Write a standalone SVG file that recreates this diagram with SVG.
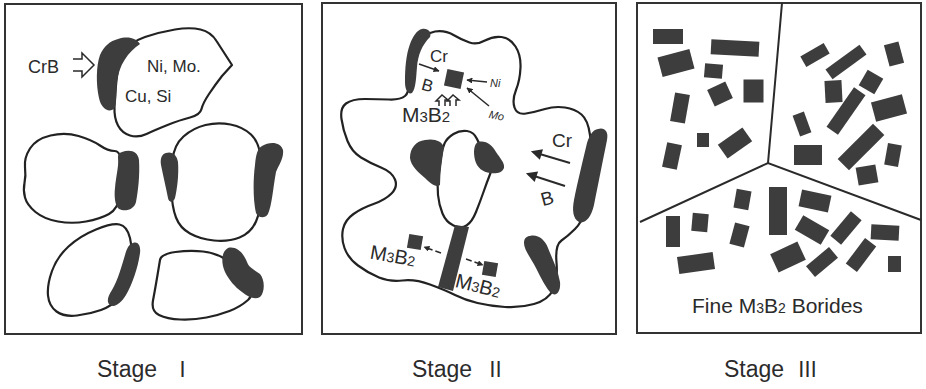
<svg xmlns="http://www.w3.org/2000/svg" width="926" height="389" viewBox="0 0 926 389">
  <defs>
    <style>
      .frame { fill: #ffffff; stroke: #333333; stroke-width: 2; }
      .grain { fill: #ffffff; stroke: #222222; stroke-width: 2.2; stroke-linejoin: round; }
      .patch { fill: #3d3d3d; }
      .blk { fill: #3d3d3d; }
      .gb { fill: none; stroke: #2a2a2a; stroke-width: 2; }
      .thin { fill: none; stroke: #2a2a2a; stroke-width: 1.5; }
      .lbl { font-family: "Liberation Sans", Arial, sans-serif; fill: #2b2b2b; }
      .it { font-style: italic; }
      .num { font-family: "Noto Sans CJK JP", "DejaVu Sans", sans-serif; fill: #2b2b2b; }
    </style>
    <marker id="ah" viewBox="0 0 10 10" refX="9" refY="5" markerWidth="6" markerHeight="6" markerUnits="userSpaceOnUse" orient="auto">
      <path d="M0,0 L10,5 L0,10 Z" fill="#2a2a2a"/>
    </marker>
    <marker id="ahb" viewBox="0 0 10 10" refX="8" refY="5" markerWidth="12" markerHeight="11" markerUnits="userSpaceOnUse" orient="auto">
      <path d="M0,0 L10,5 L0,10 Z" fill="#2a2a2a"/>
    </marker>
  </defs>

  <rect x="0" y="0" width="926" height="389" fill="#ffffff"/>

  <!-- Stage I : CrB particles wetting the matrix grains -->
  <g id="stage1">
    <rect class="frame" x="5" y="4" width="297" height="330"/>

    <g id="s1-grain-top">
      <path class="grain" d="M124,53.5 Q130,42 145,37 Q160,32 175,29.5 Q190,27 200.5,29.5 Q211,32 216.5,41 L232,65 L222,76 Q215,85 209,94 Q203,103 201.5,109 Q200,115 190,117.5 Q180,120 167.5,125 Q155,130 146.5,134 Q138,138 130,135.5 Q122,133 118,125.5 Q114,118 114.5,106.5 Q115,95 116.5,80 Q118,65 124,53.5 Z"/>
      <path class="patch" d="M118,39 C128,36 136,38 140,44 C128,52 119,65 117,82 C116,95 117,104 114,109 C108,113 101,108 99,98 C96,85 96,66 100,55 C104,46 110,41 118,39 Z"/>
      <text class="lbl" x="147" y="72" font-size="17">Ni, Mo.</text>
      <text class="lbl" x="125" y="102" font-size="17">Cu, Si</text>
    </g>

    <g id="s1-crb">
      <text class="lbl" x="28" y="73" font-size="18">CrB</text>
      <path class="thin" d="M73,59 H82 V53 L94,65 L82,77 V71 H73"/>
    </g>

    <g id="s1-grain-midleft">
      <path class="grain" d="M25,167 Q24,158 30,148.5 Q36,139 50.5,135.5 Q65,132 78.5,136 Q92,140 100,145.5 Q108,151 114.5,151 Q121,151 122,165.5 Q123,180 120.5,194.5 Q118,209 109,214 Q100,219 86,221.5 Q72,224 58,221.5 Q44,219 35.5,212 Q27,205 25,197.5 Q23,190 24.5,183 Q26,176 25,167 Z"/>
      <path class="patch" d="M122,152 C130,149 138,151 139,160 C140,175 138,192 136,202 C134,210 125,212 119,209 C115,206 114,196 115,188 C116,176 119,166 118,158 C118,154 119,153 122,152 Z"/>
    </g>

    <g id="s1-grain-midright">
      <path class="grain" d="M172.5,160 Q174,145 183.5,136.5 Q193,128 205.5,125 Q218,122 230.5,124.5 Q243,127 251,134.5 Q259,142 261,158.5 Q263,175 262,192.5 Q261,210 256,221.5 Q251,233 239.5,237.5 Q228,242 214,240.5 Q200,239 190,233.5 Q180,228 176,217.5 Q172,207 171.5,191 Q171,175 172.5,160 Z"/>
      <path class="patch" d="M166,153 C172,151 177,155 178,162 C179,175 177,190 175,198 C173,203 169,203 168,198 C166,188 163,175 161,165 C160,158 162,154 166,153 Z"/>
      <path class="patch" d="M262,146 C270,141 281,142 283,150 C284,158 279,165 276,172 C273,188 272,205 268,214 C265,219 258,218 256,213 C253,200 253,180 255,165 C256,155 257,149 262,146 Z"/>
    </g>

    <g id="s1-grain-botleft">
      <path class="grain" d="M68.5,246.5 Q80,236 96,229.5 Q112,223 119.5,224.5 Q127,226 130,238 Q133,250 129.5,270 Q126,290 119,298 Q112,306 101,310 Q90,314 77,315.5 Q64,317 56.5,311.5 Q49,306 48,295.5 Q47,285 52,271 Q57,257 68.5,246.5 Z"/>
      <path class="patch" d="M133,243 C138,241 141,246 140,253 C138,268 132,285 126,295 C121,303 115,308 110,305 C106,302 108,296 112,290 C118,280 122,265 125,255 C127,248 129,244 133,243 Z"/>
    </g>

    <g id="s1-grain-botright">
      <path class="grain" d="M160,260 Q161,254 175.5,252 Q190,250 203,251.5 Q216,253 226,259.5 Q236,266 246,279.5 Q256,293 248,300 Q240,307 229.5,311 Q219,315 206.5,317.5 Q194,320 180.5,319.5 Q167,319 159,315 Q151,311 153,300.5 Q155,290 157,278 Q159,266 160,260 Z"/>
      <path class="patch" d="M228,248 C236,246 243,252 247,262 C249,268 255,270 260,274 C265,280 265,292 260,297 C255,300 248,297 242,292 C235,287 229,280 225,272 C221,263 221,252 228,248 Z"/>
    </g>
  </g>

  <!-- Stage II : diffusion of Cr and B, M3B2 formation -->
  <g id="stage2">
    <rect class="frame" x="322" y="3" width="294" height="331"/>

    <g id="s2-grain">
      <path class="grain" d="M416.5,46.5 Q425,33 435,31.5 Q445,30 453.5,35 Q462,40 469.5,42.5 Q477,45 485,40.5 Q493,36 501.5,37 Q510,38 515.5,46.5 Q521,55 520.5,67.5 Q520,80 516,90 Q512,100 514.5,107.5 Q517,115 526,113.5 Q535,112 545,109 Q555,106 565,107.5 Q575,109 581.5,114.5 Q588,120 590,135 Q592,150 590,175 Q588,200 585,211 Q582,222 575,229 Q568,236 561.5,240.5 Q555,245 556.5,262.5 Q558,280 553,290 Q548,300 534,304 Q520,308 505,307 Q490,306 477.5,303 Q465,300 455,295 Q445,290 430,284.5 Q415,279 402.5,280.5 Q390,282 379,277.5 Q368,273 358,265.5 Q348,258 344.5,248 Q341,238 343,229 Q345,220 353.5,214 Q362,208 373.5,204 Q385,200 391.5,193.5 Q398,187 395,179.5 Q392,172 381,167.5 Q370,163 361,157.5 Q352,152 347.5,141 Q343,130 341.5,119 Q340,108 346,103.5 Q352,99 365,99 Q378,99 389,99.5 Q400,100 405,96 Q410,92 409,76 Q408,60 416.5,46.5 Z"/>
      <path class="grain" d="M444.5,143.5 Q447,138 453.5,134 Q460,130 467,131 Q474,132 477,139 Q480,146 487,155 Q494,164 490.5,173 Q487,182 483.5,192 Q480,202 476,212 Q472,222 466.5,225.5 Q461,229 453.5,225.5 Q446,222 442.5,213.5 Q439,205 438,195 Q437,185 438.5,175 Q440,165 441,157 Q442,149 444.5,143.5 Z"/>
      <path class="patch" d="M422,29 C428,28 432,32 430,37 C422,45 418,55 417,67 C416,78 416,88 412,93 C408,95 405,90 405,82 C405,68 406,55 410,44 C413,36 417,30 422,29 Z"/>
      <path class="patch" d="M598,129 C604,127 609,131 607,140 C603,160 598,185 594,205 C591,218 585,224 579,222 C573,219 572,210 574,200 C578,180 583,160 587,143 C590,134 593,130 598,129 Z"/>
      <path class="patch" d="M530,236 C538,234 545,240 548,248 C552,258 558,270 560,282 C561,292 556,297 551,293 C546,288 541,278 536,268 C531,258 524,250 524,243 C524,238 527,236 530,236 Z"/>
      <path class="patch" d="M425,140 C434,138 442,141 444,147 C442,160 440,172 440,185 C436,188 430,183 425,178 C418,172 411,166 410,158 C410,148 416,141 425,140 Z"/>
      <path class="patch" d="M478,142 C486,140 492,145 496,152 C500,158 505,163 504,168 C502,173 496,174 490,173 C483,172 477,168 475,160 C473,152 474,144 478,142 Z"/>
      <path class="patch" d="M455,225 L469,227 L453,291 L438,287 Z"/>
    </g>

    <g id="s2-top-boride">
      <rect class="blk" x="445.5" y="70.5" width="17" height="17" transform="rotate(12 454 79)"/>
      <text class="lbl" x="430" y="62" font-size="17">Cr</text>
      <line class="thin" x1="419" y1="64" x2="439" y2="71" marker-end="url(#ah)"/>
      <text class="lbl" x="422" y="91" font-size="17" transform="rotate(15 427 85)">B</text>
      <text class="lbl it" x="490" y="87" font-size="11">Ni</text>
      <text class="lbl it" x="489" y="119" font-size="11" transform="rotate(12 495 115)">Mo</text>
      <path class="thin" d="M439,106 V101 H436 L442,95 L448,100 H445 V106"/>
      <path class="thin" d="M450,106 V101 H447 L453,95 L459,100 H456 V106"/>
      <text class="lbl" x="402" y="122" font-size="21">M<tspan font-size="15">3</tspan>B<tspan font-size="15">2</tspan></text>
    </g>

    <g id="s2-right-flux">
      <text class="lbl" x="552" y="147" font-size="19">Cr</text>
      <text class="lbl" x="541" y="205" font-size="19" transform="rotate(-15 547 199)">B</text>
    </g>

    <g id="s2-bottom-borides">
      <rect class="blk" x="408" y="235" width="14" height="14" transform="rotate(10 415 242)"/>
      <rect class="blk" x="483" y="262" width="14" height="14" transform="rotate(10 490 269)"/>
      <text class="lbl" x="370" y="263" font-size="20" transform="rotate(10 395 257)">M<tspan font-size="14">3</tspan>B<tspan font-size="14">2</tspan></text>
      <text class="lbl" x="455" y="293" font-size="20" transform="rotate(14 480 287)">M<tspan font-size="14">3</tspan>B<tspan font-size="14">2</tspan></text>
    </g>
  </g>

  <!-- connectors: diffusion arrows -->
  <g id="connectors">
    <line class="thin" x1="487" y1="82" x2="467" y2="80" marker-end="url(#ah)"/>
    <line class="thin" x1="489" y1="106" x2="467" y2="88" marker-end="url(#ah)"/>
    <line class="gb" x1="570" y1="163" x2="533" y2="152" stroke-width="4" marker-end="url(#ahb)"/>
    <line class="gb" x1="565" y1="186" x2="528" y2="174" stroke-width="4" marker-end="url(#ahb)"/>
    <line class="thin" x1="441" y1="253" x2="424" y2="247" stroke-dasharray="6 3" marker-end="url(#ah)"/>
    <line class="thin" x1="466" y1="259" x2="483" y2="265" stroke-dasharray="6 3" marker-end="url(#ah)"/>
  </g>

  <!-- Stage III : fine M3B2 borides in recrystallised grains -->
  <g id="stage3">
    <rect class="frame" x="637" y="3" width="284" height="330"/>
    <path class="gb" d="M782,3 L768,163 M640,222 L768,163 L921,220"/>

    <g id="s3-borides">
      <rect class="blk" x="653" y="29" width="30" height="15"/>
      <rect class="blk" x="659.5" y="53" width="33" height="20" transform="rotate(-15 676 63)"/>
      <rect class="blk" x="711" y="40.5" width="48" height="15" transform="rotate(3 735 48)"/>
      <rect class="blk" x="704.5" y="64" width="18" height="14" transform="rotate(5 713.5 71)"/>
      <rect class="blk" x="710" y="85" width="20" height="18" transform="rotate(-25 720 94)"/>
      <rect class="blk" x="743.5" y="79.5" width="20" height="23"/>
      <rect class="blk" x="672.5" y="93.5" width="15" height="29" transform="rotate(10 680 108)"/>
      <rect class="blk" x="697" y="133" width="12" height="14"/>
      <rect class="blk" x="720" y="134.5" width="30" height="17" transform="rotate(-35 735 143)"/>
      <rect class="blk" x="664.5" y="143.5" width="15" height="25" transform="rotate(12 672 156)"/>

      <rect class="blk" x="801.5" y="49" width="27" height="12" transform="rotate(-30 815 55)"/>
      <rect class="blk" x="825" y="56" width="42" height="12" transform="rotate(-36 846 62)"/>
      <rect class="blk" x="886.5" y="43" width="15" height="22" transform="rotate(-15 894 54)"/>
      <rect class="blk" x="825" y="80.5" width="17" height="22" transform="rotate(-3 833.5 91.5)"/>
      <rect class="blk" x="862" y="73" width="18" height="18" transform="rotate(30 871 82)"/>
      <rect class="blk" x="839" y="87" width="14" height="48" transform="rotate(35 846 111)"/>
      <rect class="blk" x="873" y="98" width="32" height="20" transform="rotate(-15 889 108)"/>
      <rect class="blk" x="796" y="113" width="12" height="22" transform="rotate(-20 802 124)"/>
      <rect class="blk" x="794" y="145" width="28" height="20"/>
      <rect class="blk" x="853" y="122" width="16" height="50" transform="rotate(45 861 147)"/>
      <rect class="blk" x="886" y="144" width="14" height="22" transform="rotate(10 893 155)"/>
      <rect class="blk" x="857" y="166" width="20" height="18" transform="rotate(-10 867 175)"/>

      <rect class="blk" x="666" y="216" width="14" height="31"/>
      <rect class="blk" x="692" y="213.5" width="16" height="18" transform="rotate(5 700 222.5)"/>
      <rect class="blk" x="735" y="190" width="15" height="19" transform="rotate(10 742.5 199.5)"/>
      <rect class="blk" x="732" y="224" width="15" height="22" transform="rotate(15 739.5 235)"/>
      <rect class="blk" x="769" y="187" width="18" height="48"/>
      <rect class="blk" x="800" y="192.5" width="30" height="17" transform="rotate(12 815 201)"/>
      <rect class="blk" x="797" y="221.5" width="30" height="17" transform="rotate(30 812 230)"/>
      <rect class="blk" x="839" y="212" width="14" height="32" transform="rotate(40 846 228)"/>
      <rect class="blk" x="871" y="225" width="28" height="15" transform="rotate(3 885 232.5)"/>
      <rect class="blk" x="678" y="254.5" width="36" height="17" transform="rotate(-8 696 263)"/>
      <rect class="blk" x="773" y="247" width="30" height="20" transform="rotate(-25 788 257)"/>
      <rect class="blk" x="807" y="255" width="30" height="14" transform="rotate(-40 822 262)"/>
      <rect class="blk" x="854" y="239" width="14" height="32" transform="rotate(37 861 255)"/>
      <rect class="blk" x="888" y="256" width="13" height="16"/>
    </g>

    <text class="lbl" x="692" y="313" font-size="21">Fine M<tspan font-size="14">3</tspan>B<tspan font-size="14">2</tspan> Borides</text>
  </g>

  <!-- stage captions -->
  <g id="captions">
    <text class="lbl" x="97" y="377" font-size="23">Stage</text>
    <text class="num" x="172" y="377" font-size="21">Ⅰ</text>
    <text class="lbl" x="412" y="377" font-size="23">Stage</text>
    <text class="num" x="485" y="377" font-size="21">Ⅱ</text>
    <text class="lbl" x="724" y="377" font-size="23">Stage</text>
    <text class="num" x="797" y="377" font-size="21">Ⅲ</text>
  </g>
</svg>
